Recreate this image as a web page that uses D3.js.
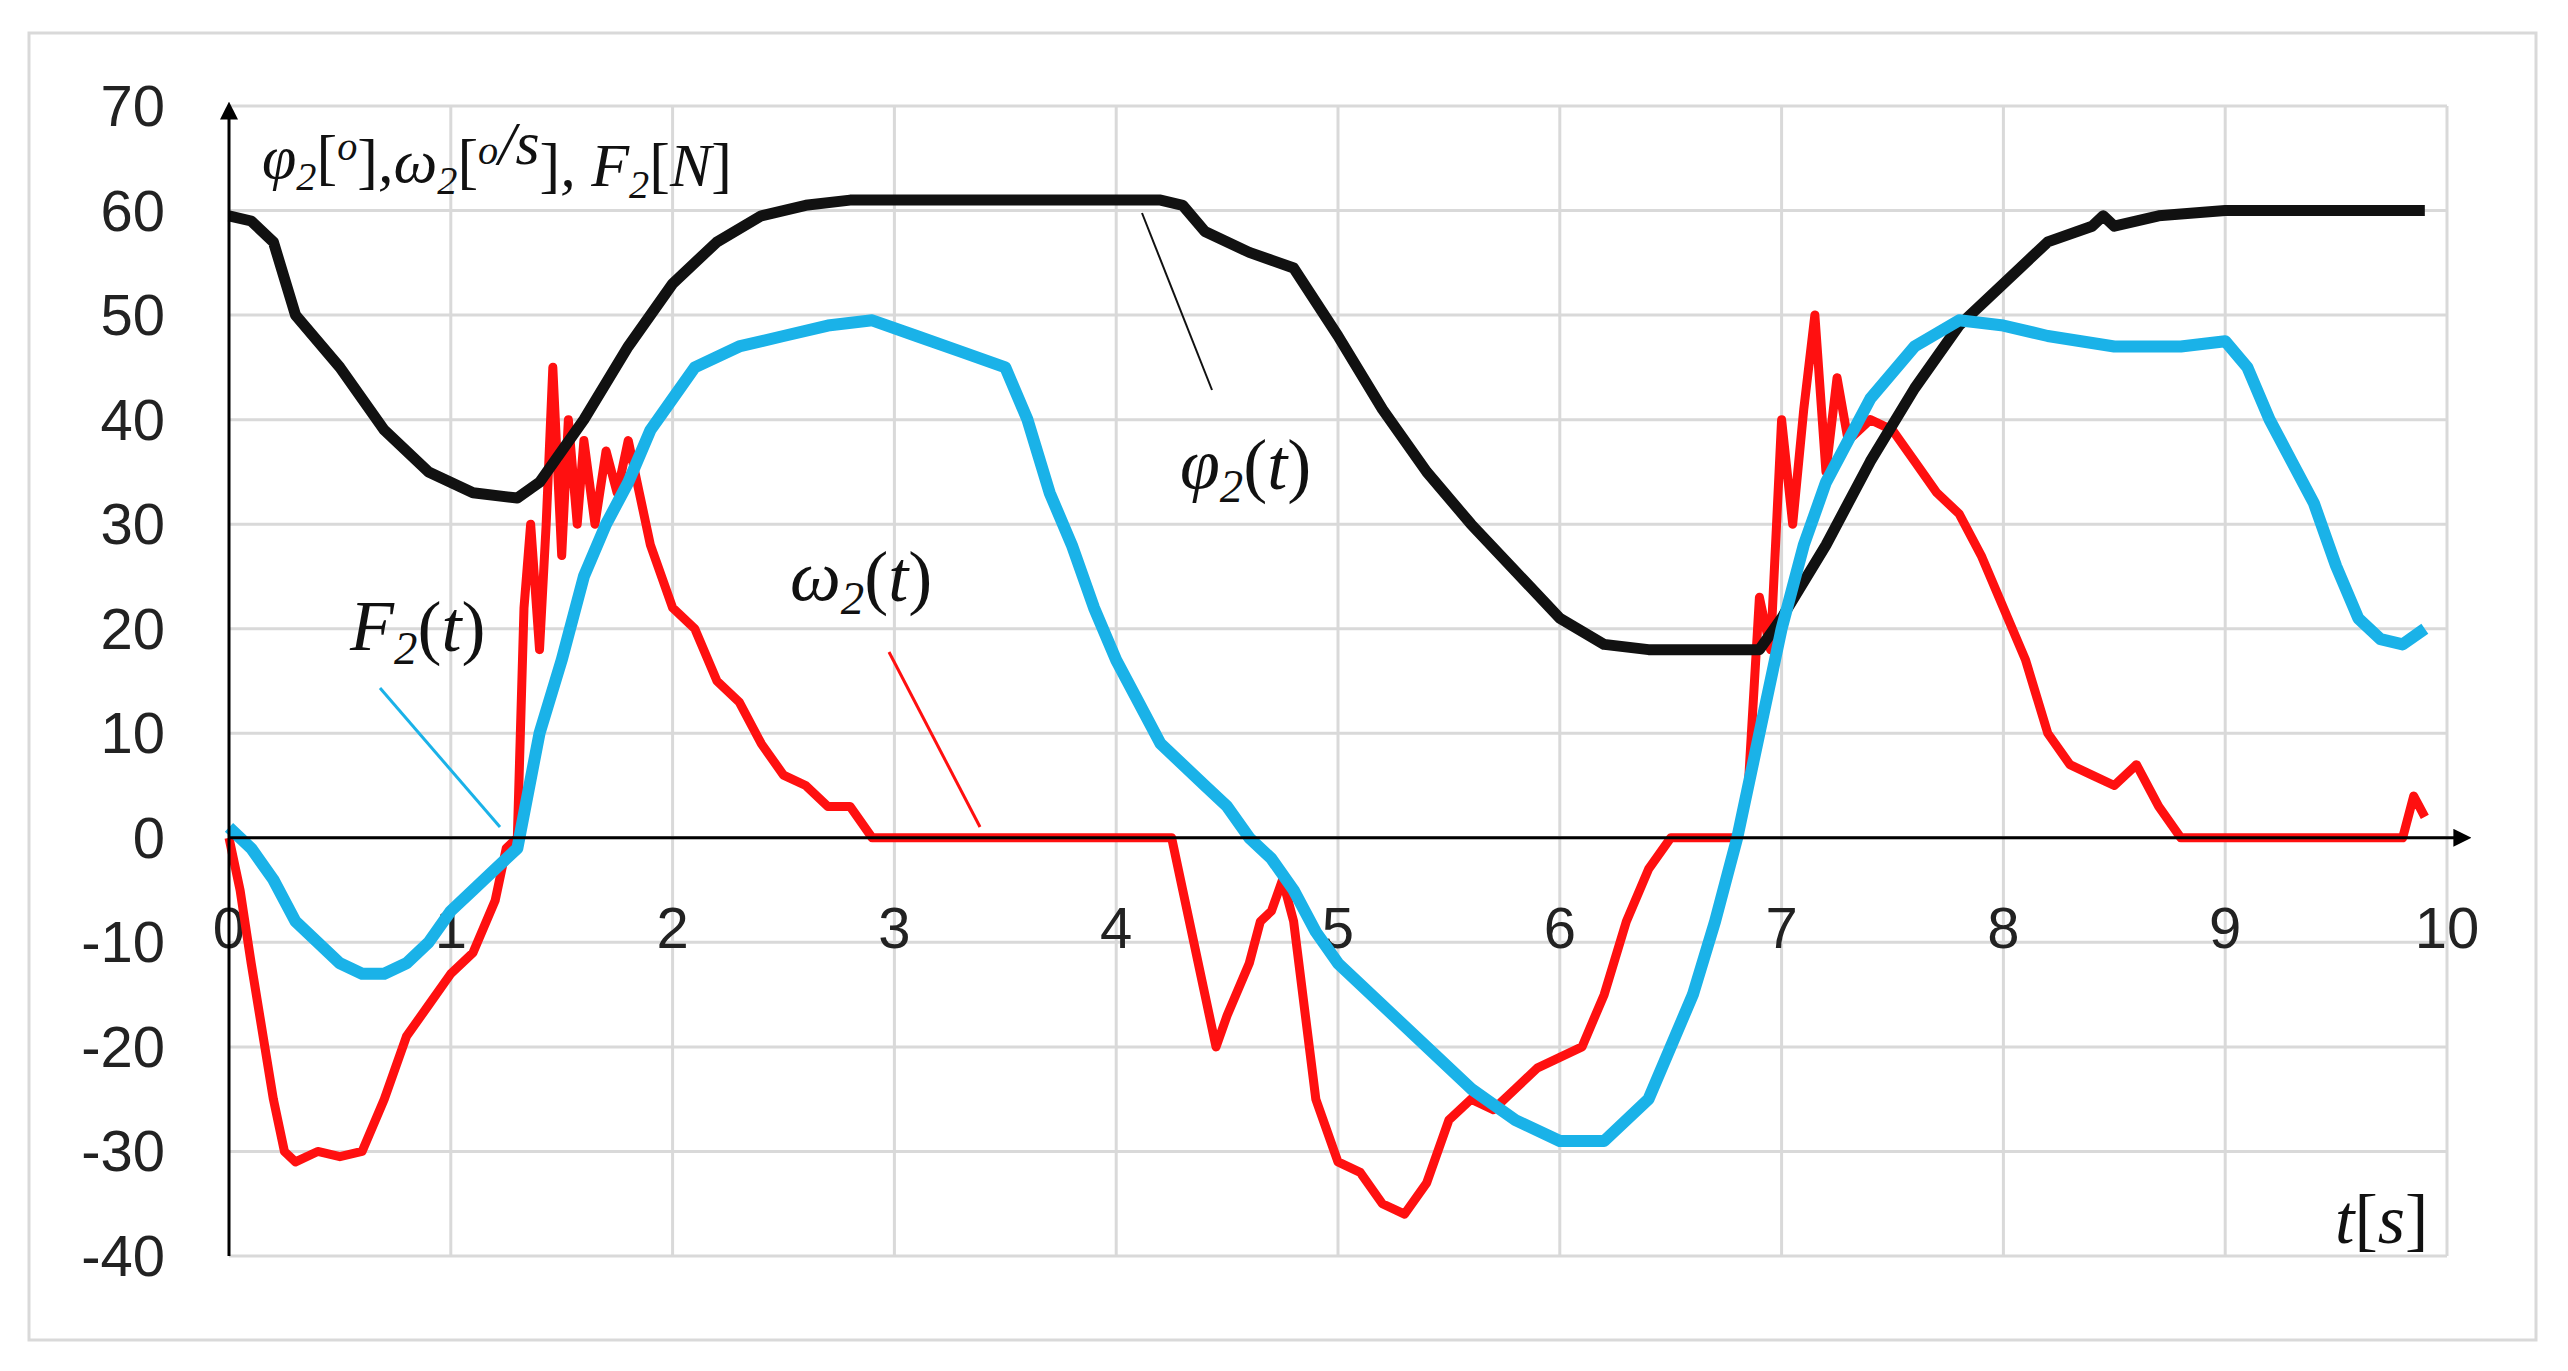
<!DOCTYPE html>
<html><head><meta charset="utf-8">
<script src="https://cdn.jsdelivr.net/npm/d3@7"></script>
<style>body{margin:0;background:#fff}</style>
</head><body><div id="chart"></div>
<script>
// phi2(t)
var phiT = [0,0.1,0.2,0.3,0.5,0.7,0.9,1.1,1.3,1.4,1.6,1.8,2.0,2.2,2.4,2.6,2.8,3.0,4.2,4.3,4.4,4.6,4.8,5.0,5.2,5.4,5.6,5.8,6.0,6.2,6.4,6.9,7.0,7.2,7.4,7.6,7.8,8.0,8.2,8.4,8.45,8.5,8.7,9.0,9.9];
var phiV = [59.5,59,57,50,45,39,35,33,32.5,34,40,47,53,57,59.5,60.5,61,61,61,60.5,58,56,54.5,48,41,35,30,25.5,21,18.5,18,18,21,28,36,43,49,53,57,58.5,59.5,58.5,59.5,60,60];
// F2(t)
var fT = [0,0.1,0.2,0.3,0.4,0.5,0.6,0.7,0.8,0.9,1.0,1.1,1.2,1.3,1.4,1.5,1.6,1.7,1.8,1.9,2.0,2.1,2.3,2.5,2.7,2.9,3.1,3.3,3.5,3.6,3.7,3.8,3.9,4.0,4.1,4.2,4.3,4.4,4.5,4.6,4.7,4.8,4.9,5.0,5.2,5.4,5.6,5.8,6.0,6.2,6.4,6.5,6.6,6.7,6.8,6.9,7.0,7.1,7.2,7.4,7.6,7.8,8.0,8.2,8.5,8.8,9.0,9.1,9.2,9.3,9.4,9.5,9.6,9.7,9.8,9.9];
var fV = [1,-1,-4,-8,-10,-12,-13,-13,-12,-10,-7,-5,-3,-1,10,17,25,30,34,39,42,45,47,48,49,49.5,48,46.5,45,40,33,28,22,17,13,9,7,5,3,0,-2,-5,-9,-12,-16,-20,-24,-27,-29,-29,-25,-20,-15,-8,0,10,20,28,34,42,47,49.5,49,48,47,47,47.5,45,40,36,32,26,21,19,18.5,20];
// omega2(t)
var wT = [0,0.05,0.1,0.2,0.25,0.3,0.4,0.5,0.6,0.7,0.8,0.9,1.0,1.1,1.2,1.25,1.3,1.33,1.36,1.4,1.43,1.46,1.5,1.53,1.57,1.6,1.65,1.7,1.75,1.8,1.85,1.9,2.0,2.1,2.2,2.3,2.4,2.5,2.6,2.7,2.8,2.9,3.0,4.25,4.3,4.4,4.45,4.5,4.6,4.65,4.7,4.75,4.8,4.9,5.0,5.1,5.2,5.3,5.4,5.5,5.6,5.7,5.8,5.9,6.0,6.1,6.2,6.3,6.4,6.5,6.8,6.85,6.9,6.95,7.0,7.05,7.1,7.15,7.2,7.25,7.3,7.4,7.5,7.6,7.7,7.8,7.9,8.0,8.1,8.2,8.3,8.4,8.5,8.6,8.7,8.8,8.9,9.8,9.85,9.9];
var wV = [0,-5,-12,-25,-30,-31,-30,-30.5,-30,-25,-19,-16,-13,-11,-6,-1,0,22,30,18,30,45,27,40,30,38,30,37,33,38,33,28,22,20,15,13,9,6,5,3,3,0,0,0,-5,-15,-20,-17,-12,-8,-7,-4,-8,-25,-31,-32,-35,-36,-33,-27,-25,-26,-24,-22,-21,-20,-15,-8,-3,0,0,5,23,18,40,30,41,50,35,44,38,40,39,36,33,31,27,22,17,10,7,6,5,7,3,0,0,0,4,2];
var xTicks = [0,1,2,3,4,5,6,7,8,9,10];
var yTicks = [-40,-30,-20,-10,0,10,20,30,40,50,60,70];

var W = 2568, H = 1371;
var svg = d3.select("#chart").append("svg").attr("width", W).attr("height", H);
svg.append("rect").attr("x", 29).attr("y", 33).attr("width", 2507).attr("height", 1307)
    .attr("fill", "#fff").attr("stroke", "#d9d9d9").attr("stroke-width", 3);

var x = d3.scaleLinear().domain([0, 10]).range([229, 2447]);
var y = d3.scaleLinear().domain([-40, 70]).range([1256, 106]);

// grid
svg.selectAll(".hg").data(yTicks).enter().append("line")
    .attr("x1", x(0)).attr("x2", x(10)).attr("y1", d => y(d)).attr("y2", d => y(d))
    .attr("stroke", "#d9d9d9").attr("stroke-width", 3);
svg.selectAll(".vg").data(xTicks.slice(1)).enter().append("line")
    .attr("x1", d => x(d)).attr("x2", d => x(d)).attr("y1", y(70)).attr("y2", y(-40))
    .attr("stroke", "#d9d9d9").attr("stroke-width", 3);

var tickFont = "'Liberation Sans Narrow','Liberation Sans',Arial,sans-serif";
svg.selectAll(".yl").data(yTicks).enter().append("text")
    .attr("x", 165).attr("y", d => y(d) + 20).attr("text-anchor", "end")
    .attr("font-family", tickFont).attr("font-size", 58).attr("fill", "#222").text(d => d);
svg.selectAll(".xl").data(xTicks).enter().append("text")
    .attr("x", d => x(d)).attr("y", y(0) + 110).attr("text-anchor", "middle")
    .attr("font-family", tickFont).attr("font-size", 58).attr("fill", "#222").text(d => d);

function series(t, v, color, w) {
    var data = t.map((d, i) => [d, v[i]]);
    svg.append("path").datum(data)
        .attr("d", d3.line().x(d => x(d[0])).y(d => y(d[1])))
        .attr("fill", "none").attr("stroke", color).attr("stroke-width", w)
        .attr("stroke-linejoin", "round");
}
series(wT, wV, "#ff1010", 9);
series(phiT, phiV, "#111", 11);
series(fT, fV, "#1ab2e8", 12);

// axes with arrows
svg.append("defs").append("marker").attr("id", "arr").attr("viewBox", "0 0 10 10")
    .attr("refX", 2).attr("refY", 5).attr("markerWidth", 6).attr("markerHeight", 6)
    .attr("orient", "auto").append("path").attr("d", "M0,0L10,5L0,10z").attr("fill", "#000");
svg.append("line").attr("x1", x(0)).attr("x2", x(10) + 10).attr("y1", y(0)).attr("y2", y(0))
    .attr("stroke", "#000").attr("stroke-width", 3).attr("marker-end", "url(#arr)");
svg.append("line").attr("x1", x(0)).attr("x2", x(0)).attr("y1", y(-40)).attr("y2", y(70) + 10)
    .attr("stroke", "#000").attr("stroke-width", 3).attr("marker-end", "url(#arr)");

// labels
var mathFont = "'Liberation Serif','DejaVu Serif',serif";
function mlabel(px, py, parts, size) {
    var t = svg.append("text").attr("x", px).attr("y", py).attr("font-family", mathFont)
        .attr("font-size", size).attr("font-style", "italic").attr("fill", "#111");
    parts.forEach(p => {
        var s = t.append("tspan").text(p[0]);
        if (p[1] === "sub") s.attr("font-size", size * 0.65).attr("dy", size * 0.2);
        if (p[1] === "supsub") s.attr("font-size", size * 0.65).attr("dy", -size * 0.3);
        if (p[2]) s.attr("dy", p[2]);
        if (p[1] === "n") s.attr("font-style", "normal");
    });
}
mlabel(262, 178, [["φ"], ["2", "sub"], ["[", "n", -12], ["o", "supsub"], ["]", "n", 22], [",ω"], ["2", "sub"], ["[", "n", -12], ["o", "supsub"], ["/s"], ["]", "n", 22], [", F"], ["2", "sub"], ["[", "n", -12], ["N"], ["]", "n"]], 62);
mlabel(1180, 488, [["φ"], ["2", "sub"], ["(", "n", -13], ["t"], [")", "n"]], 72);
mlabel(790, 600, [["ω"], ["2", "sub"], ["(", "n", -13], ["t"], [")", "n"]], 72);
mlabel(350, 650, [["F"], ["2", "sub"], ["(", "n", -13], ["t"], [")", "n"]], 72);
mlabel(2335, 1243, [["t"], ["[", "n"], ["s"], ["]", "n"]], 70);

svg.append("line").attr("x1", 1142).attr("y1", 213).attr("x2", 1212).attr("y2", 390).attr("stroke", "#111").attr("stroke-width", 2);
svg.append("line").attr("x1", 889).attr("y1", 652).attr("x2", 980).attr("y2", 827).attr("stroke", "#ff1010").attr("stroke-width", 3);
svg.append("line").attr("x1", 380).attr("y1", 688).attr("x2", 500).attr("y2", 827).attr("stroke", "#1ab2e8").attr("stroke-width", 3);
</script></body></html>
